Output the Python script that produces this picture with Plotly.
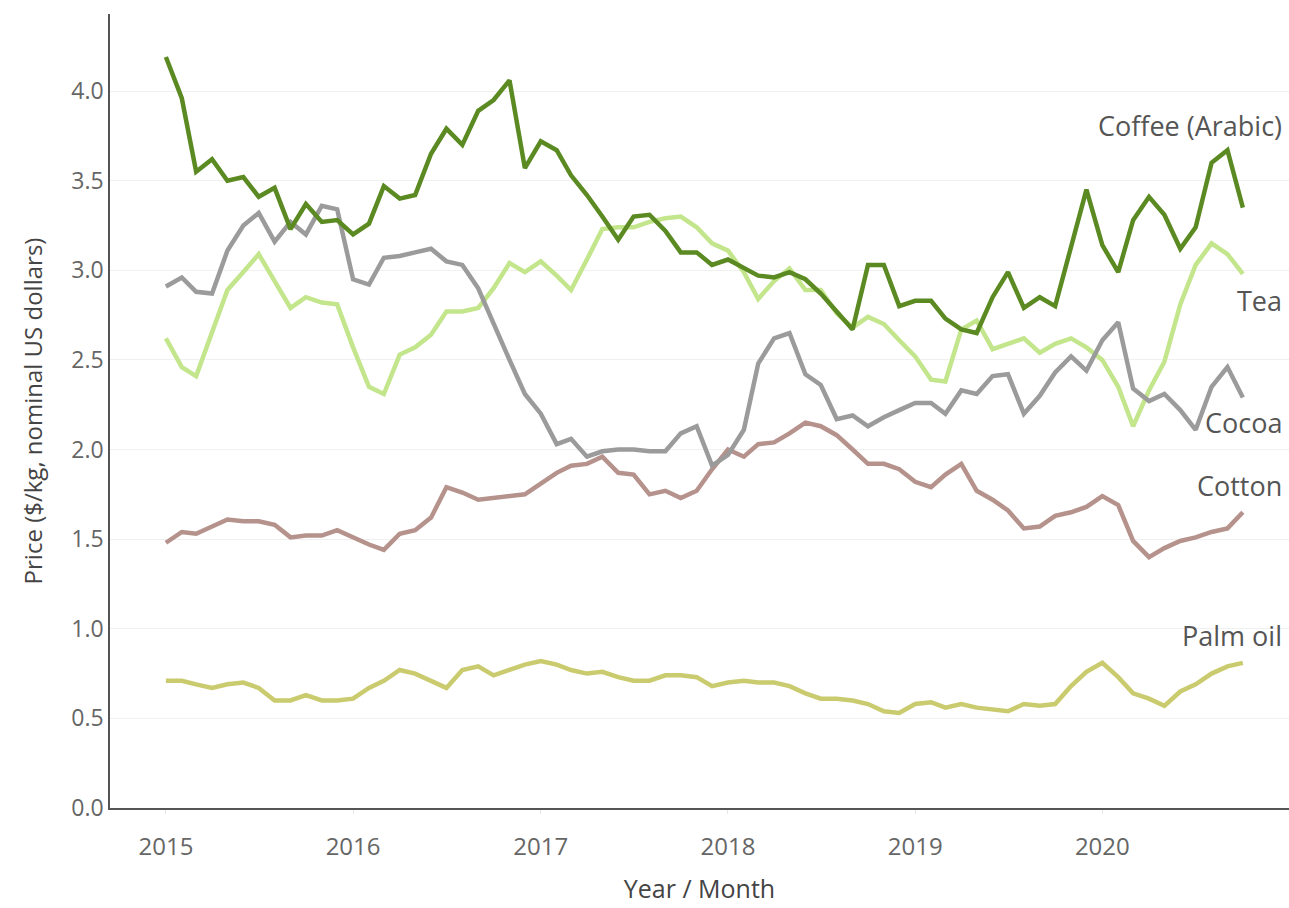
import plotly.graph_objects as go

months = [f"{y}-{m:02d}-01" for y in range(2015, 2021) for m in range(1, 13)][:70]

coffee = [4.19, 3.96, 3.55, 3.62, 3.50, 3.52, 3.41, 3.46, 3.23, 3.37, 3.27, 3.28,
          3.20, 3.26, 3.47, 3.40, 3.42, 3.65, 3.79, 3.70, 3.89, 3.95, 4.06, 3.57,
          3.72, 3.67, 3.53, 3.42, 3.30, 3.17, 3.30, 3.31, 3.22, 3.10, 3.10, 3.03,
          3.06, 3.01, 2.97, 2.96, 2.99, 2.95, 2.87, 2.77, 2.67, 3.03, 3.03, 2.80,
          2.83, 2.83, 2.73, 2.67, 2.65, 2.85, 2.99, 2.79, 2.85, 2.80, 3.13, 3.45,
          3.14, 2.99, 3.28, 3.41, 3.31, 3.12, 3.24, 3.60, 3.67, 3.35]

tea = [2.62, 2.46, 2.41, 2.65, 2.89, 2.99, 3.09, 2.94, 2.79, 2.85, 2.82, 2.81,
       2.57, 2.35, 2.31, 2.53, 2.57, 2.64, 2.77, 2.77, 2.79, 2.90, 3.04, 2.99,
       3.05, 2.97, 2.89, 3.06, 3.23, 3.24, 3.24, 3.27, 3.29, 3.30, 3.24, 3.15,
       3.11, 2.99, 2.84, 2.94, 3.01, 2.89, 2.89, 2.76, 2.68, 2.74, 2.70, 2.61,
       2.52, 2.39, 2.38, 2.67, 2.72, 2.56, 2.59, 2.62, 2.54, 2.59, 2.62, 2.57,
       2.50, 2.35, 2.13, 2.33, 2.49, 2.81, 3.03, 3.15, 3.09, 2.98]

cocoa = [2.91, 2.96, 2.88, 2.87, 3.11, 3.25, 3.32, 3.16, 3.27, 3.20, 3.36, 3.34,
         2.95, 2.92, 3.07, 3.08, 3.10, 3.12, 3.05, 3.03, 2.90, 2.70, 2.50, 2.31,
         2.20, 2.03, 2.06, 1.96, 1.99, 2.00, 2.00, 1.99, 1.99, 2.09, 2.13, 1.91,
         1.97, 2.11, 2.48, 2.62, 2.65, 2.42, 2.36, 2.17, 2.19, 2.13, 2.18, 2.22,
         2.26, 2.26, 2.20, 2.33, 2.31, 2.41, 2.42, 2.20, 2.30, 2.43, 2.52, 2.44,
         2.61, 2.71, 2.34, 2.27, 2.31, 2.22, 2.11, 2.35, 2.46, 2.29]

cotton = [1.48, 1.54, 1.53, 1.57, 1.61, 1.60, 1.60, 1.58, 1.51, 1.52, 1.52, 1.55,
          1.51, 1.47, 1.44, 1.53, 1.55, 1.62, 1.79, 1.76, 1.72, 1.73, 1.74, 1.75,
          1.81, 1.87, 1.91, 1.92, 1.96, 1.87, 1.86, 1.75, 1.77, 1.73, 1.77, 1.89,
          2.00, 1.96, 2.03, 2.04, 2.09, 2.15, 2.13, 2.08, 2.00, 1.92, 1.92, 1.89,
          1.82, 1.79, 1.86, 1.92, 1.77, 1.72, 1.66, 1.56, 1.57, 1.63, 1.65, 1.68,
          1.74, 1.69, 1.49, 1.40, 1.45, 1.49, 1.51, 1.54, 1.56, 1.65]

palm_oil = [0.71, 0.71, 0.69, 0.67, 0.69, 0.70, 0.67, 0.60, 0.60, 0.63, 0.60, 0.60,
            0.61, 0.67, 0.71, 0.77, 0.75, 0.71, 0.67, 0.77, 0.79, 0.74, 0.77, 0.80,
            0.82, 0.80, 0.77, 0.75, 0.76, 0.73, 0.71, 0.71, 0.74, 0.74, 0.73, 0.68,
            0.70, 0.71, 0.70, 0.70, 0.68, 0.64, 0.61, 0.61, 0.60, 0.58, 0.54, 0.53,
            0.58, 0.59, 0.56, 0.58, 0.56, 0.55, 0.54, 0.58, 0.57, 0.58, 0.68, 0.76,
            0.81, 0.73, 0.64, 0.61, 0.57, 0.65, 0.69, 0.75, 0.79, 0.81]

series = [
    ("Palm oil", palm_oil, "#c9cb6e", 0.965),
    ("Cotton", cotton, "#b5928b", 1.80),
    ("Tea", tea, "#c3e58c", 2.83),
    ("Cocoa", cocoa, "#9b9b9b", 2.15),
    ("Coffee (Arabic)", coffee, "#5b8a22", 3.81),
]

year_ticks = ["2015-01-01", "2016-01-01", "2017-01-01", "2018-01-01", "2019-01-01", "2020-01-01"]
year_labels = ["2015", "2016", "2017", "2018", "2019", "2020"]
y_ticks = [0, 0.5, 1.0, 1.5, 2.0, 2.5, 3.0, 3.5, 4.0]

FONT = "Open Sans, Noto Sans, sans-serif"

fig = go.Figure()
for name, vals, color, _ in series:
    fig.add_trace(go.Scatter(x=months, y=vals, mode="lines", name=name,
                             line=dict(color=color, width=4.5), showlegend=False))

for name, vals, color, ly in series:
    fig.add_annotation(x=0.996, xref="paper", y=ly, yref="y", text=name,
                       showarrow=False, xanchor="right", yanchor="middle",
                       font=dict(family=FONT, size=27, color="#555555"))

fig.update_layout(
    width=1289, height=908,
    margin=dict(l=110, r=0, t=14, b=100),
    plot_bgcolor="white", paper_bgcolor="white",
    font=dict(family=FONT, color="#666666"),
)
fig.update_xaxes(
    type="date", range=["2014-09-14", "2020-12-30"],
    tickvals=year_ticks, ticktext=year_labels,
    tickfont=dict(family=FONT, size=24, color="#666666"),
    ticklabelstandoff=12,
    showgrid=False, showline=True, linecolor="#555555", linewidth=1.5,
    ticks="outside", ticklen=4, tickcolor="#e6e6e6",
    title=dict(text="Year / Month", font=dict(family=FONT, size=25, color="#444444"), standoff=20),
    zeroline=False,
)
fig.update_yaxes(
    range=[0, 4.43], tickvals=y_ticks, tickformat=".1f",
    tickfont=dict(family=FONT, size=23, color="#666666"),
    showgrid=True, gridcolor="#f0f0f0", gridwidth=1,
    showline=True, linecolor="#555555", linewidth=1.5,
    ticks="", zeroline=False,
    title=dict(text="Price ($/kg, nominal US dollars)", font=dict(family=FONT, size=24, color="#444444"), standoff=22),
)

fig.write_html("out.html", config={"displayModeBar": False},
               post_script="document.body.style.margin='0';document.body.style.overflow='hidden';")
